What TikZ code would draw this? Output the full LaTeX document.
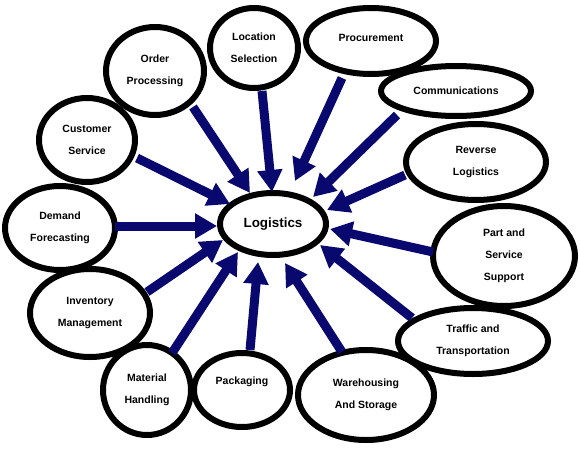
\documentclass[tikz,border=0pt]{standalone}
\usepackage{fontspec}
\setmainfont{Liberation Sans}
\usetikzlibrary{shapes.geometric,arrows.meta}
\definecolor{arrowblue}{RGB}{8,8,110}
\tikzset{
  bub/.style={ellipse, draw=black, line width=6pt, fill=white, inner sep=0pt,
    align=center, font=\fontsize{10.5}{22}\selectfont\bfseries},
  flow/.style={draw=arrowblue, line width=9pt, -{Triangle[width=24pt,length=22pt]}}
}
\newcommand{\liftup}[2]{\raisebox{#1}[\height][\depth]{#2}}
\begin{document}
\begin{tikzpicture}[x=1pt,y=-1pt]
\useasboundingbox (0,0) rectangle (580,452);
\node[bub, minimum width=106pt, minimum height=62pt, font=\fontsize{13.4}{15}\selectfont\bfseries] (log) at (273,224) {Logistics};
\node[bub, minimum width=88pt, minimum height=80pt] (loc) at (254,48) {Location\\Selection};
\node[bub, minimum width=98pt, minimum height=88pt] (ord) at (155,71) {Order\\Processing};
\node[bub, minimum width=96pt, minimum height=84pt] (cus) at (87,140) {Customer\\Service};
\node[bub, minimum width=110pt, minimum height=84pt] (dem) at (60,228) {Demand\\Forecasting};
\node[bub, minimum width=120pt, minimum height=88pt] (inv) at (90,313) {Inventory\\Management};
\node[bub, minimum width=88pt, minimum height=90pt] (mat) at (147,390) {Material\\Handling};
\node[bub, minimum width=96pt, minimum height=74pt] (pac) at (242,390) {\liftup{8pt}{Packaging}};
\node[bub, minimum width=136pt, minimum height=90pt] (war) at (366,395) {Warehousing\\And Storage};
\node[bub, minimum width=150pt, minimum height=66pt] (tra) at (473,341) {Traffic and\\Transportation};
\node[bub, minimum width=142pt, minimum height=100pt] (par) at (504,256) {Part and\\Service\\Support};
\node[bub, minimum width=140pt, minimum height=76pt] (rev) at (476,162) {Reverse\\Logistics};
\node[bub, minimum width=150pt, minimum height=50pt] (com) at (456,91) {Communications};
\node[bub, minimum width=130pt, minimum height=66pt] (pro) at (371,41) {\liftup{3pt}{Procurement}};

\coordinate (s1) at (193,107); \coordinate (t1) at (250,193);
\coordinate (s2) at (262,91);  \coordinate (t2) at (272,192);
\coordinate (s3) at (342,78);  \coordinate (t3) at (295,181);
\coordinate (s4) at (397,115); \coordinate (t4) at (313,197);
\coordinate (s5) at (405,175); \coordinate (t5) at (327,210);
\coordinate (s6) at (433,252); \coordinate (t6) at (330,229);
\coordinate (s7) at (412,318); \coordinate (t7) at (320,245);
\coordinate (s8) at (342,352); \coordinate (t8) at (285,263);
\coordinate (s9) at (250,350); \coordinate (t9) at (258,262);
\coordinate (s10) at (172,353); \coordinate (t10) at (238,252);
\coordinate (s11) at (147,292); \coordinate (t11) at (223,240);
\coordinate (s12) at (115,226); \coordinate (t12) at (217,226);
\coordinate (s13) at (137,158); \coordinate (t13) at (230,204);
\foreach \i in {1,...,13} { \draw[flow] (s\i) -- (t\i); }
\end{tikzpicture}
\end{document}
